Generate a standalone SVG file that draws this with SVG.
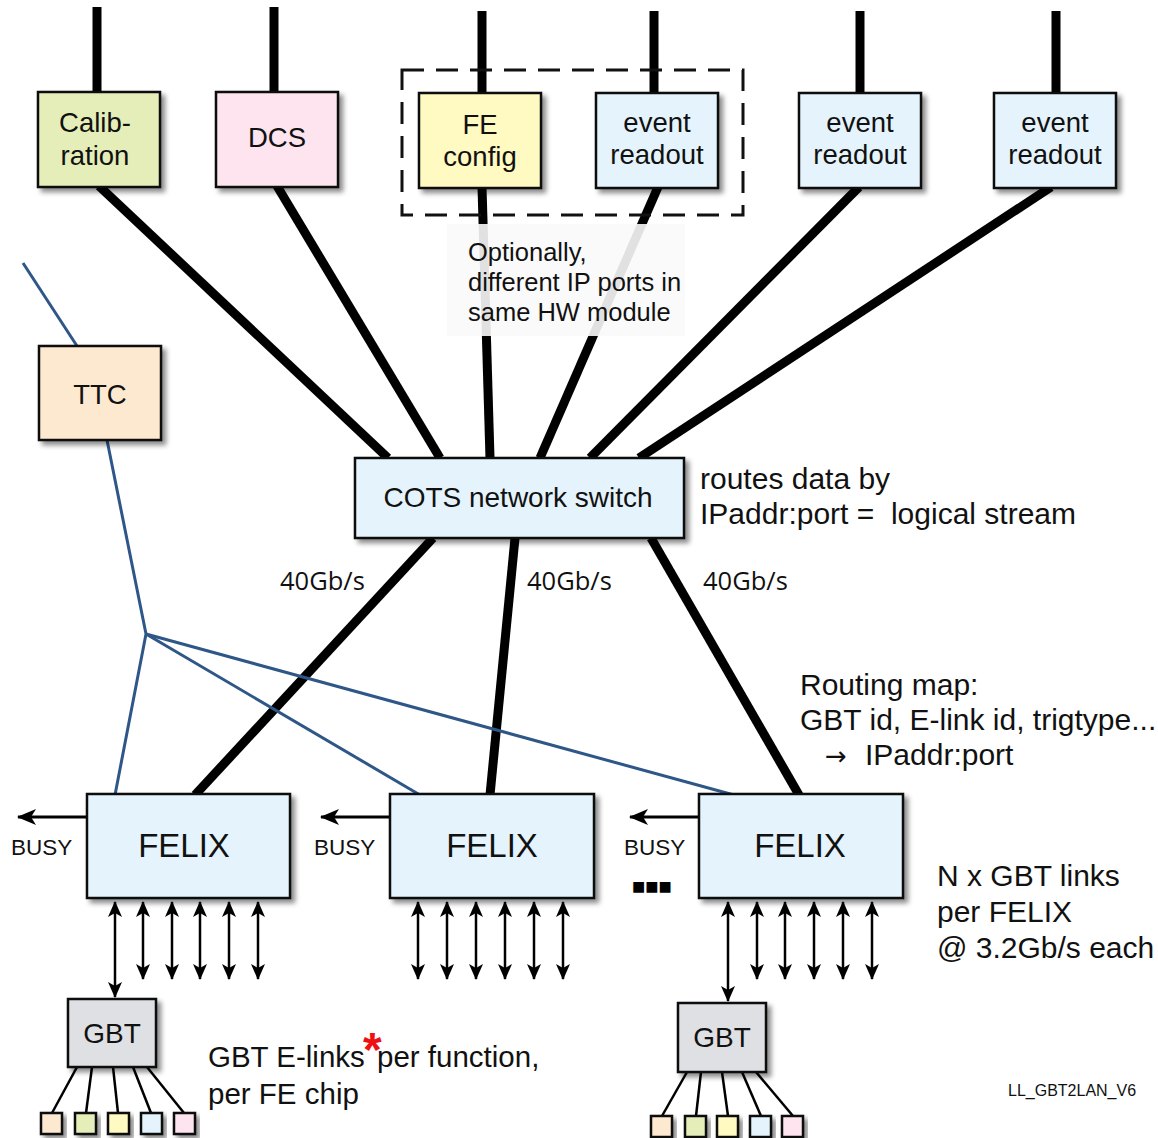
<svg xmlns="http://www.w3.org/2000/svg" width="1158" height="1138" viewBox="0 0 1158 1138">
<style>
.t{font-family:"Liberation Sans",Arial,sans-serif;fill:#111}
.box{stroke:#111;stroke-width:2.5}
.thick{stroke:#000;stroke-width:9;fill:none}
.blue{stroke:#2e5788;stroke-width:3;fill:none}
.bi{stroke:#000;stroke-width:2.5;marker-start:url(#ah);marker-end:url(#ah)}
.busy{stroke:#000;stroke-width:3;marker-end:url(#ah2)}
.thin{stroke:#000;stroke-width:2.5;fill:none}
.c{text-anchor:middle}
.gb{font-family:"Open Sans","Liberation Sans",sans-serif;font-size:25.5px;fill:#111}
</style>
<defs>
<filter id="sh" x="-10%" y="-10%" width="130%" height="130%">
<feDropShadow dx="4" dy="4" stdDeviation="2.5" flood-color="#000" flood-opacity="0.45"/>
</filter>
<marker id="ah" markerUnits="userSpaceOnUse" markerWidth="16" markerHeight="14" refX="15" refY="7" orient="auto-start-reverse">
<path d="M0,0 L16,7 L0,14 L4,7 Z" fill="#000"/>
</marker>
<marker id="ah2" markerUnits="userSpaceOnUse" markerWidth="19" markerHeight="16" refX="18" refY="8" orient="auto">
<path d="M0,0 L19,8 L0,16 L5,8 Z" fill="#000"/>
</marker>
</defs>
<rect width="1158" height="1138" fill="#fff"/>

<g id="connectors">
<line class="thick" x1="97" y1="7" x2="97" y2="93"/>
<line class="thick" x1="274" y1="7" x2="274" y2="93"/>
<line class="thick" x1="482" y1="11" x2="482" y2="94"/>
<line class="thick" x1="654" y1="11" x2="654" y2="94"/>
<line class="thick" x1="860" y1="11" x2="860" y2="94"/>
<line class="thick" x1="1056" y1="11" x2="1056" y2="94"/>
<line class="thick" x1="99" y1="186" x2="388" y2="458"/>
<line class="thick" x1="277" y1="186" x2="440" y2="458"/>
<line class="thick" x1="482" y1="187" x2="490" y2="458"/>
<line class="thick" x1="658" y1="187" x2="540" y2="458"/>
<line class="thick" x1="859" y1="187" x2="590" y2="458"/>
<line class="thick" x1="1051" y1="187" x2="639" y2="458"/>
<line class="thick" x1="433" y1="538" x2="195" y2="795"/>
<line class="thick" x1="515" y1="538" x2="490" y2="795"/>
<line class="thick" x1="651" y1="538" x2="799" y2="795"/>
<line class="blue" x1="23" y1="263" x2="77" y2="346"/>
<polyline class="blue" points="107,440 146,634 115,795"/>
<line class="blue" x1="146" y1="634" x2="420" y2="795"/>
<line class="blue" x1="146" y1="634" x2="734" y2="795"/>
<line class="busy" x1="87" y1="817" x2="18" y2="817"/>
<line class="busy" x1="390" y1="817" x2="321" y2="817"/>
<line class="busy" x1="699" y1="817" x2="630" y2="817"/>
<line class="bi" x1="115" y1="902" x2="115" y2="997"/>
<line class="bi" x1="143" y1="902" x2="143" y2="979"/>
<line class="bi" x1="172" y1="902" x2="172" y2="979"/>
<line class="bi" x1="200" y1="902" x2="200" y2="979"/>
<line class="bi" x1="229" y1="902" x2="229" y2="979"/>
<line class="bi" x1="258" y1="902" x2="258" y2="979"/>
<line class="bi" x1="418" y1="902" x2="418" y2="979"/>
<line class="bi" x1="447" y1="902" x2="447" y2="979"/>
<line class="bi" x1="476" y1="902" x2="476" y2="979"/>
<line class="bi" x1="505" y1="902" x2="505" y2="979"/>
<line class="bi" x1="534" y1="902" x2="534" y2="979"/>
<line class="bi" x1="563" y1="902" x2="563" y2="979"/>
<line class="bi" x1="728" y1="902" x2="728" y2="1001"/>
<line class="bi" x1="757" y1="902" x2="757" y2="979"/>
<line class="bi" x1="785" y1="902" x2="785" y2="979"/>
<line class="bi" x1="814" y1="902" x2="814" y2="979"/>
<line class="bi" x1="843" y1="902" x2="843" y2="979"/>
<line class="bi" x1="872" y1="902" x2="872" y2="979"/>
<line class="thin" x1="77" y1="1067" x2="52" y2="1113"/>
<line class="thin" x1="92" y1="1067" x2="86" y2="1113"/>
<line class="thin" x1="113" y1="1067" x2="118" y2="1113"/>
<line class="thin" x1="133" y1="1067" x2="151" y2="1113"/>
<line class="thin" x1="147" y1="1067" x2="184" y2="1113"/>
<line class="thin" x1="687" y1="1072" x2="662" y2="1116"/>
<line class="thin" x1="701" y1="1072" x2="696" y2="1116"/>
<line class="thin" x1="722" y1="1072" x2="728" y2="1116"/>
<line class="thin" x1="742" y1="1072" x2="761" y2="1116"/>
<line class="thin" x1="756" y1="1072" x2="793" y2="1116"/>
</g>

<g id="optional-note">
<rect x="447" y="224" width="238" height="112" fill="#fafafa" fill-opacity="0.9"/>
<text class="t" font-size="25.5" x="468" y="261">Optionally,</text>
<text class="t" font-size="25.5" x="468" y="291">different IP ports in</text>
<text class="t" font-size="25.5" x="468" y="321">same HW module</text>
</g>
<rect id="same-module" x="402" y="70" width="341" height="145" fill="none" stroke="#111" stroke-width="3" stroke-dasharray="22 12"/>

<g id="calibration">
<rect class="box" filter="url(#sh)" x="38" y="92" width="122" height="95" fill="#e5eeb9"/>
<text class="t c" font-size="27.5" x="95" y="132">Calib-</text>
<text class="t c" font-size="27.5" x="95" y="165">ration</text>
</g>
<g id="dcs">
<rect class="box" filter="url(#sh)" x="216" y="92" width="122" height="95" fill="#fde4ef"/>
<text class="t c" font-size="27.5" x="277" y="147">DCS</text>
</g>
<g id="fe-config">
<rect class="box" filter="url(#sh)" x="419" y="93" width="122" height="95" fill="#fff9c2"/>
<text class="t c" font-size="27.5" x="480" y="134">FE</text>
<text class="t c" font-size="27.5" x="480" y="166">config</text>
</g>
<g id="event-readout-1">
<rect class="box" filter="url(#sh)" x="596" y="93" width="122" height="95" fill="#e5f4fc"/>
<text class="t c" font-size="27.5" x="657" y="132">event</text>
<text class="t c" font-size="27.5" x="657" y="164">readout</text>
</g>
<g id="event-readout-2">
<rect class="box" filter="url(#sh)" x="799" y="93" width="122" height="95" fill="#e5f4fc"/>
<text class="t c" font-size="27.5" x="860" y="132">event</text>
<text class="t c" font-size="27.5" x="860" y="164">readout</text>
</g>
<g id="event-readout-3">
<rect class="box" filter="url(#sh)" x="994" y="93" width="122" height="95" fill="#e5f4fc"/>
<text class="t c" font-size="27.5" x="1055" y="132">event</text>
<text class="t c" font-size="27.5" x="1055" y="164">readout</text>
</g>
<g id="ttc">
<rect class="box" filter="url(#sh)" x="39" y="346" width="122" height="94" fill="#fde9d0"/>
<text class="t c" font-size="27.5" x="100" y="404">TTC</text>
</g>
<g id="switch">
<rect class="box" filter="url(#sh)" x="355" y="458" width="329" height="80" fill="#e5f4fc"/>
<text class="t c" font-size="28" x="518" y="507">COTS network switch</text>
</g>
<g id="felix-1">
<rect class="box" filter="url(#sh)" x="87" y="794" width="203" height="104" fill="#e5f4fc"/>
<text class="t c" font-size="33" x="184" y="857">FELIX</text>
</g>
<g id="felix-2">
<rect class="box" filter="url(#sh)" x="390" y="794" width="204" height="104" fill="#e5f4fc"/>
<text class="t c" font-size="33" x="492" y="857">FELIX</text>
</g>
<g id="felix-3">
<rect class="box" filter="url(#sh)" x="699" y="794" width="204" height="104" fill="#e5f4fc"/>
<text class="t c" font-size="33" x="800" y="857">FELIX</text>
</g>
<g id="gbt-1">
<rect class="box" filter="url(#sh)" x="68" y="999" width="88" height="68" fill="#dfe0e3"/>
<text class="t c" font-size="28" x="112" y="1043">GBT</text>
</g>
<g id="gbt-2">
<rect class="box" filter="url(#sh)" x="678" y="1003" width="88" height="69" fill="#dfe0e3"/>
<text class="t c" font-size="28" x="722" y="1047">GBT</text>
</g>
<g id="fe-chips-1">
<rect class="box" filter="url(#sh)" x="41" y="1113" width="21" height="21" fill="#fde9d0" stroke-width="2"/>
<rect class="box" filter="url(#sh)" x="75" y="1113" width="21" height="21" fill="#e5eeb9" stroke-width="2"/>
<rect class="box" filter="url(#sh)" x="108" y="1113" width="21" height="21" fill="#fff9c2" stroke-width="2"/>
<rect class="box" filter="url(#sh)" x="141" y="1113" width="21" height="21" fill="#e5f4fc" stroke-width="2"/>
<rect class="box" filter="url(#sh)" x="174" y="1113" width="21" height="21" fill="#fde4ef" stroke-width="2"/>
</g>
<g id="fe-chips-2">
<rect class="box" filter="url(#sh)" x="651" y="1116" width="21" height="21" fill="#fde9d0" stroke-width="2"/>
<rect class="box" filter="url(#sh)" x="685" y="1116" width="21" height="21" fill="#e5eeb9" stroke-width="2"/>
<rect class="box" filter="url(#sh)" x="717" y="1116" width="21" height="21" fill="#fff9c2" stroke-width="2"/>
<rect class="box" filter="url(#sh)" x="750" y="1116" width="21" height="21" fill="#e5f4fc" stroke-width="2"/>
<rect class="box" filter="url(#sh)" x="782" y="1116" width="21" height="21" fill="#fde4ef" stroke-width="2"/>
</g>

<g id="labels">
<text class="gb" x="280" y="590">40Gb/s</text>
<text class="gb" x="527" y="590">40Gb/s</text>
<text class="gb" x="703" y="590">40Gb/s</text>
<text class="t" font-size="22.5" x="11" y="855">BUSY</text>
<text class="t" font-size="22.5" x="314" y="855">BUSY</text>
<text class="t" font-size="22.5" x="624" y="855">BUSY</text>
<text font-family="DejaVu Sans,sans-serif" font-size="14" fill="#000" x="632" y="891">■■■</text>
<text class="t" font-size="30" x="700" y="489">routes data by</text>
<text class="t" font-size="30" x="700" y="524" xml:space="preserve">IPaddr:port =  logical stream</text>
<text class="t" font-size="30" x="800" y="695">Routing map:</text>
<text class="t" font-size="30" x="800" y="730">GBT id, E-link id, trigtype...</text>
<text class="t" font-size="30" x="825" y="765"><tspan font-family="DejaVu Sans,sans-serif" font-size="26">→</tspan><tspan x="865">IPaddr:port</tspan></text>
<text class="t" font-size="30" x="937" y="886">N x GBT links</text>
<text class="t" font-size="30" x="937" y="922">per FELIX</text>
<text class="t" font-size="30" x="937" y="958">@ 3.2Gb/s each</text>
<text class="t" font-size="29.5" x="208" y="1067">GBT E-links<tspan x="377">per function,</tspan></text>
<text class="t" font-size="29.5" x="208" y="1104">per FE chip</text>
<text font-family="Liberation Sans,Arial,sans-serif" font-size="48" font-weight="bold" fill="#ee1111" x="363" y="1066">*</text>
<text class="t" font-size="16" x="1008" y="1096">LL_GBT2LAN_V6</text>
</g>
</svg>
